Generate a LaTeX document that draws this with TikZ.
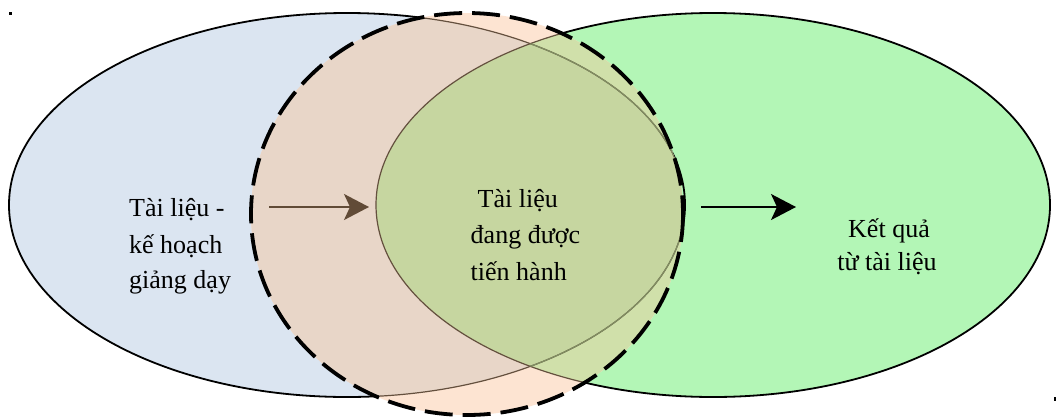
\documentclass[tikz,border=0pt]{standalone}
\usepackage{fontspec}
\setmainfont{Liberation Serif}
\usetikzlibrary{arrows.meta}
\definecolor{blueF}{RGB}{219,229,241}
\definecolor{greenF}{RGB}{179,246,182}
\definecolor{peachF}{RGB}{253,228,210}
\definecolor{peachblueF}{RGB}{232,214,200}
\definecolor{peachgreenF}{RGB}{208,224,170}
\definecolor{tripleF}{RGB}{198,214,160}
\definecolor{brownL}{RGB}{100,80,62}
\definecolor{oliveL}{RGB}{128,142,98}
\definecolor{arrowbrown}{RGB}{97,75,55}
\tikzset{
  lbl/.style={inner sep=0pt, font=\fontsize{26}{36}\selectfont, text=black},
  outer/.style={draw=black, line width=1.8pt},
  inner/.style={draw=brownL, line width=1.2pt},
  dashring/.style={draw=black, line width=3.8pt, dash pattern=on 28pt off 10pt},
  flowarrow/.style={line width=1.8pt, -{Stealth[length=25pt, width=26pt, inset=6pt]}},
  leftell/.style={x radius=338, y radius=192},
  rightell/.style={x radius=337, y radius=192},
  dashell/.style={x radius=216, y radius=201}
}
\begin{document}
\begin{tikzpicture}[x=1pt, y=-1pt]
\useasboundingbox (0,0) rectangle (1056,418);
\fill[white] (0,0) rectangle (1056,418);
\coordinate (LC) at (347,205);
\coordinate (RC) at (713,205);
\coordinate (DC) at (467,214);
% base ellipses
\fill[blueF] (LC) ellipse [leftell];
\fill[greenF] (RC) ellipse [rightell];
\path[outer] (LC) ellipse [leftell];
\path[outer] (RC) ellipse [rightell];
% dashed region overlays
\begin{scope}
  \clip (DC) ellipse [dashell];
  \fill[peachF] (0,0) rectangle (1056,418);
  \begin{scope}
    \clip (LC) ellipse [leftell];
    \fill[peachblueF] (0,0) rectangle (1056,418);
  \end{scope}
  \begin{scope}
    \clip (RC) ellipse [rightell];
    \fill[peachgreenF] (0,0) rectangle (1056,418);
    \clip (LC) ellipse [leftell];
    \fill[tripleF] (0,0) rectangle (1056,418);
  \end{scope}
  \path[inner] (LC) ellipse [leftell];
  \path[inner] (RC) ellipse [rightell];
  \begin{scope}
    \clip (RC) ellipse [rightell];
    \draw[oliveL, line width=1.2pt] (LC) ellipse [leftell];
  \end{scope}
\end{scope}
\path[dashring] (DC) ellipse [dashell];
% small marks
\fill[black] (8.5,11.5) rectangle (11.5,14.5);
\fill[black] (1053.5,396.5) rectangle (1055.5,401);
% texts
\node[lbl, anchor=base west] (l1) at (129,216) {Tài liệu -};
\node[lbl, anchor=base west] (l2) at (129,253) {kế hoạch};
\node[lbl, anchor=base west] (l3) at (129,288) {giảng dạy};
\node[lbl, anchor=base west] (m1) at (477.5,207) {Tài liệu};
\node[lbl, anchor=base west] (m2) at (470.5,243) {đang được};
\node[lbl, anchor=base west] (m3) at (470.5,280) {tiến hành};
\node[lbl, anchor=base] (r1) at (889,237) {Kết quả};
\node[lbl, anchor=base] (r2) at (887,270) {từ tài liệu};
% arrows
\coordinate (a1s) at (269,207);
\coordinate (a1e) at (369,207);
\coordinate (a2s) at (701,207);
\coordinate (a2e) at (796,207);
\draw[flowarrow, arrowbrown] (a1s) -- (a1e);
\draw[flowarrow, black] (a2s) -- (a2e);
\end{tikzpicture}
\end{document}
